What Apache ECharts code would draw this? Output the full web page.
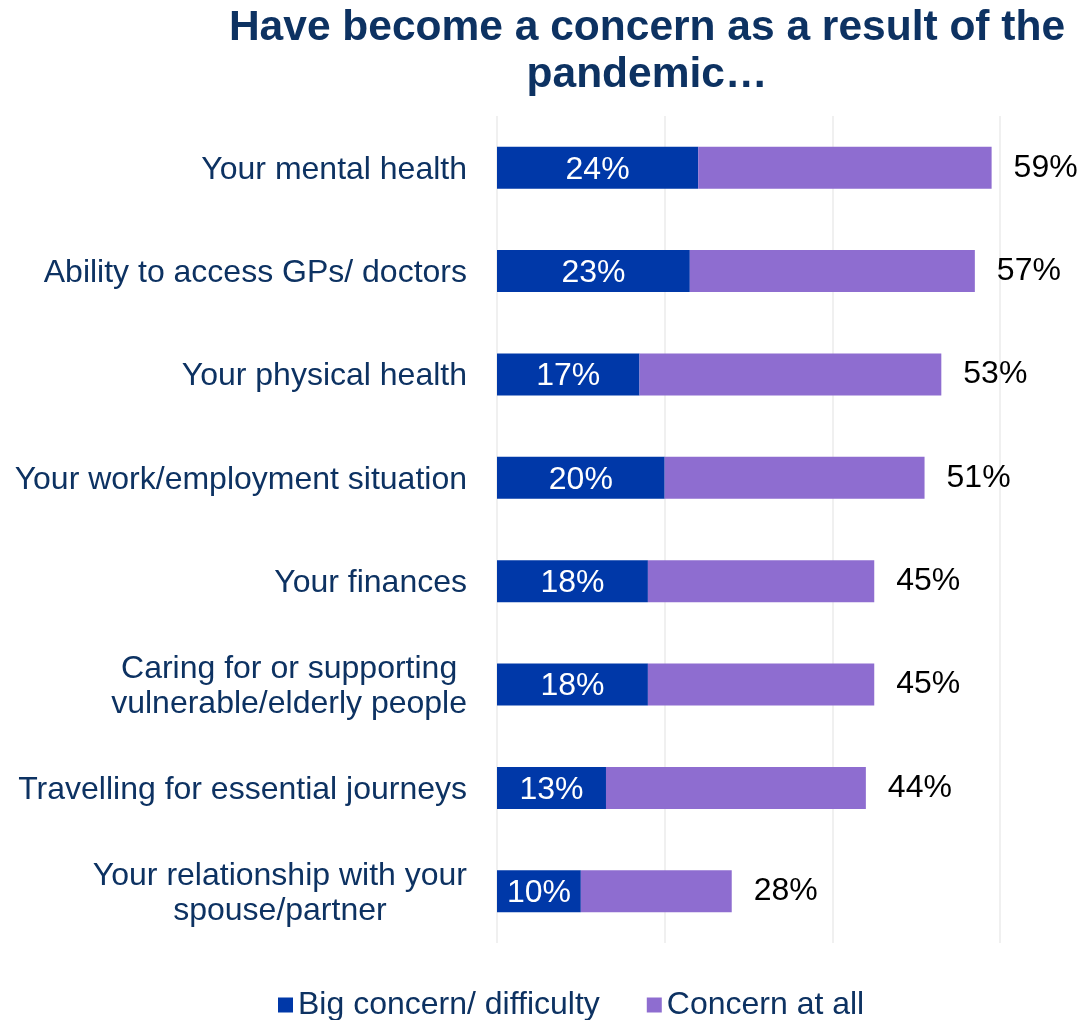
<!DOCTYPE html>
<html>
<head>
<meta charset="utf-8">
<title>Have become a concern as a result of the pandemic…</title>
<script src="https://cdn.jsdelivr.net/npm/echarts@6/dist/echarts.min.js"></script>
<style>
  html, body { margin: 0; padding: 0; background: #ffffff; }
  #chart { width: 1084px; height: 1020px; }
</style>
</head>
<body>
<div id="chart"></div>
<script>
// Survey items, top to bottom
const categories = [
  'Your mental health',
  'Ability to access GPs/ doctors',
  'Your physical health',
  'Your work/employment situation',
  'Your finances',
  'Caring for or supporting\nvulnerable/elderly people',
  'Travelling for essential journeys',
  'Your relationship with your\nspouse/partner'
];

// Share saying "big concern/ difficulty" (%)
const bigConcern = [24, 23, 17, 20, 18, 18, 13, 10];

// Share with any concern at all (%) – the full bar length
const anyConcern = [59, 57, 53, 51, 45, 45, 44, 28];

// Axis ticks (%)
const axisTicks = [0, 20, 40, 60];

const seriesNames = ['Big concern/ difficulty', 'Concern at all'];

const FONT = "'Liberation Sans', Arial, Helvetica, sans-serif";
const NAVY = '#0d3262';
const BLUE = '#0038a8';
const PURPLE = '#8e6dd0';

// The purple segment covers the remainder up to the "any concern" total
const remainder = anyConcern.map((t, i) => t - bigConcern[i]);

const chart = echarts.init(document.getElementById('chart'), null, { renderer: 'canvas' });

chart.setOption({
  backgroundColor: '#ffffff',
  animation: false,
  title: {
    text: 'Have become a concern as a result of the\npandemic…',
    left: 647,
    top: 5,
    textAlign: 'center',
    padding: 0,
    textStyle: {
      fontFamily: FONT,
      fontSize: 42.5,
      fontWeight: 'bold',
      color: NAVY,
      lineHeight: 47
    }
  },
  legend: {
    data: seriesNames,
    left: 278,
    top: 989,
    padding: 0,
    icon: 'rect',
    itemWidth: 15,
    itemHeight: 15,
    itemGap: 47,
    textStyle: {
      fontFamily: FONT,
      fontSize: 32,
      color: NAVY
    }
  },
  grid: {
    left: 497,
    right: 84,
    top: 116,
    bottom: 77,
    containLabel: false
  },
  xAxis: {
    type: 'value',
    min: axisTicks[0],
    max: axisTicks[axisTicks.length - 1],
    interval: axisTicks[1] - axisTicks[0],
    axisLine: { show: false },
    axisTick: { show: false },
    axisLabel: { show: false },
    splitLine: {
      show: true,
      showMinLine: true,
      showMaxLine: true,
      lineStyle: { color: '#ebebeb', width: 1.5 }
    }
  },
  yAxis: {
    type: 'category',
    data: categories,
    inverse: true,
    axisLine: { show: false },
    axisTick: { show: false },
    axisLabel: {
      margin: 30,
      padding: [4, 0, 0, 0],
      fontFamily: FONT,
      fontSize: 32,
      color: NAVY,
      lineHeight: 35,
      // each line is centred within its label block
      formatter: (v) => v.split('\n').map(l => '{c|' + l + '}').join('\n'),
      rich: {
        c: {
          align: 'center',
          fontFamily: FONT,
          fontSize: 32,
          color: NAVY,
          lineHeight: 35
        }
      }
    }
  },
  series: [
    {
      name: seriesNames[0],
      type: 'bar',
      stack: 'concern',
      barWidth: 42,
      data: bigConcern,
      itemStyle: { color: BLUE },
      label: {
        show: true,
        position: 'inside',
        offset: [0, 2],
        fontFamily: FONT,
        fontSize: 32,
        color: '#ffffff',
        formatter: (p) => p.value + '%'
      }
    },
    {
      name: seriesNames[1],
      type: 'bar',
      stack: 'concern',
      barWidth: 42,
      data: remainder,
      itemStyle: { color: PURPLE },
      label: {
        show: true,
        position: 'right',
        distance: 22,
        fontFamily: FONT,
        fontSize: 32,
        color: '#000000',
        formatter: (p) => anyConcern[p.dataIndex] + '%'
      }
    }
  ]
});
</script>
</body>
</html>
